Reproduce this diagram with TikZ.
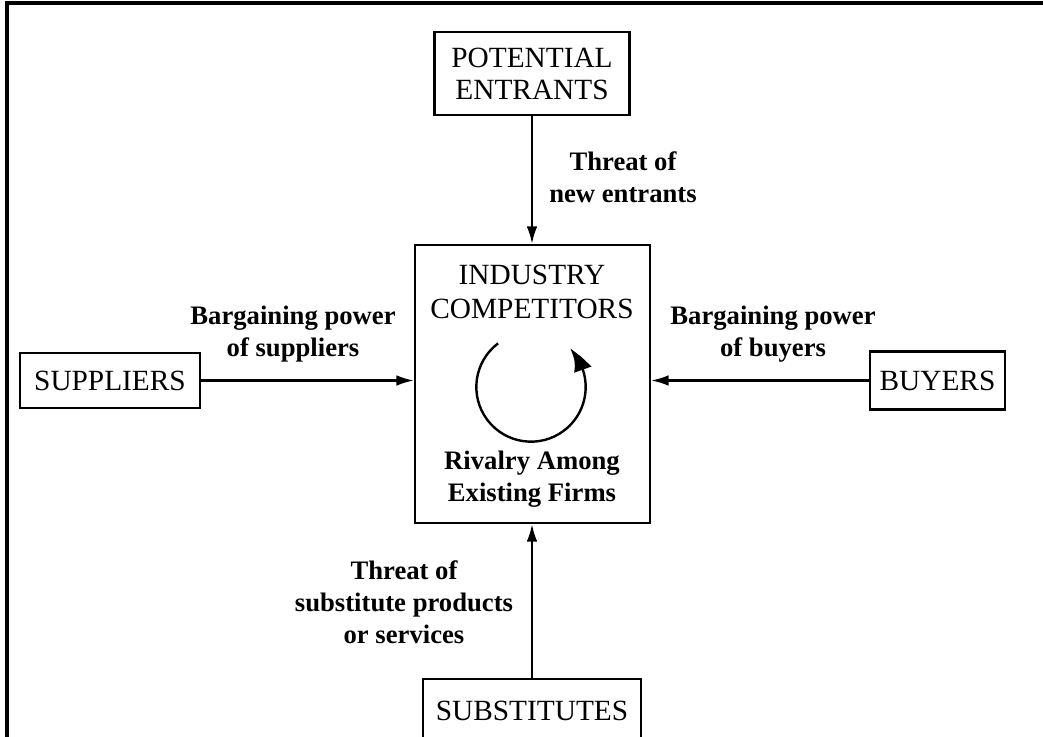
\documentclass[tikz,border=0pt]{standalone}
\usepackage{fontspec}
\setmainfont{Liberation Serif}
\usetikzlibrary{arrows.meta,bending}
\begin{document}
\begin{tikzpicture}[x=0.75pt,y=0.75pt,
  force/.style={draw, line width=1.9pt, inner sep=0pt, align=center,
    font=\fontsize{22}{24}\selectfont},
  caps/.style={align=center, font=\fontsize{22}{26}\selectfont},
  lbl/.style={align=center, font=\bfseries\fontsize{20}{24}\selectfont},
  flow/.style={line width=1.6pt, -{Latex[length=13pt,width=8pt]}}]
% page area
\clip (0,0) rectangle (1043,-736);
\fill[white] (0,0) rectangle (1043,-736);
% frame lines along the left and top edges
\draw[line width=2.4pt] (7,-745) -- (7,-3) -- (1050,-3);

% the five forces
\node[force, minimum width=146.25pt, minimum height=62.25pt] (entr) at (532,-73.5) {POTENTIAL\\ENTRANTS};
\node[draw, line width=1.9pt, minimum width=176.25pt, minimum height=208.5pt] (ctr) at (532.5,-384) {};
\node[force, minimum width=135pt, minimum height=41.25pt] (supp) at (110,-380.5) {SUPPLIERS};
\node[force, minimum width=101.25pt, minimum height=43.5pt] (buy) at (937.5,-380.5) {BUYERS};
\node[force, minimum width=163.5pt, minimum height=48pt] (subs) at (532,-711) {SUBSTITUTES};

% contents of the central box
\node[caps] (ind) at (532,-292) {INDUSTRY\\COMPETITORS};
\node[lbl] (riv) at (532,-479) {Rivalry Among\\Existing Firms};
\coordinate (rot) at (531,-387);
\draw[line width=1.8pt, -{Latex[length=19pt,width=14pt,bend]}]
  ([shift={(127:41pt)}]rot) arc[start angle=127, end angle=405, radius=41pt];

% connector labels
\node[lbl] (tne) at (623,-177) {Threat of\\new entrants};
\node[lbl] (bps) at (293,-334) {Bargaining power\\of suppliers};
\node[lbl] (bpb) at (773,-334) {Bargaining power\\of buyers};
\node[lbl] (tsp) at (404,-602) {Threat of\\substitute products\\or services};

% connectors
\draw[flow] (entr.south) -- (entr.south |- ctr.north);
\draw[flow] (supp.east) -- (supp.east -| ctr.west);
\draw[flow] (buy.west) -- (buy.west -| ctr.east);
\draw[flow] (subs.north) -- (subs.north |- ctr.south);
\end{tikzpicture}
\end{document}
